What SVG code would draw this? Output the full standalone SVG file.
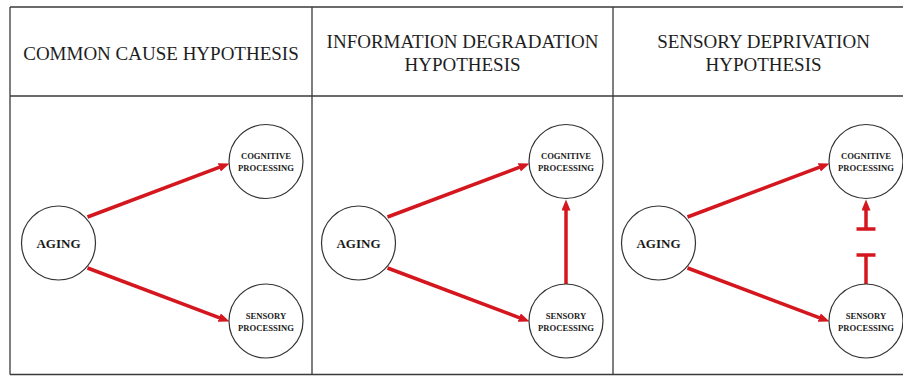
<svg xmlns="http://www.w3.org/2000/svg" width="903" height="376" viewBox="0 0 903 376">
<style>
.frame{stroke:#3a3a3a;stroke-width:1.3;fill:none}
.title{font-family:"Liberation Serif","Times New Roman",serif;font-size:19px;fill:#1e1e1e;text-anchor:middle}
.node circle{fill:#fff;stroke:#333;stroke-width:1.2}
.big{font-family:"Liberation Serif","Times New Roman",serif;font-size:13px;font-weight:bold;fill:#1a1a1a;text-anchor:middle}
.small{font-family:"Liberation Serif","Times New Roman",serif;font-size:8.6px;font-weight:bold;fill:#1a1a1a;text-anchor:middle}
.edge{stroke:#d4171e;stroke-width:3.5;fill:none}
</style>
<defs>
<marker id="ah" markerUnits="userSpaceOnUse" markerWidth="12" markerHeight="10" refX="0.5" refY="4.5" orient="auto">
<path d="M0,0 L11,4.5 L0,9 z" fill="#d4171e"/>
</marker>
</defs>
<rect width="903" height="376" fill="#fff"/>
<g id="frame" class="frame">
<line x1="10" y1="7" x2="903" y2="7"/>
<line x1="10" y1="96" x2="903" y2="96"/>
<line x1="10" y1="374.5" x2="903" y2="374.5"/>
<line x1="10" y1="7" x2="10" y2="374.5"/>
<line x1="312" y1="7" x2="312" y2="374.5"/>
<line x1="613" y1="7" x2="613" y2="374.5"/>
</g>
<g id="titles">
<text class="title" x="161" y="60">COMMON CAUSE HYPOTHESIS</text>
<text class="title" x="462.5" y="48">INFORMATION DEGRADATION</text>
<text class="title" x="462.5" y="71">HYPOTHESIS</text>
<text class="title" x="763.5" y="48">SENSORY DEPRIVATION</text>
<text class="title" x="763.5" y="71">HYPOTHESIS</text>
</g>
<g id="connectors">
<line class="edge" x1="87.5" y1="217" x2="219.7" y2="167.2" marker-end="url(#ah)"/>
<line class="edge" x1="87.5" y1="268" x2="219.7" y2="317.8" marker-end="url(#ah)"/>
<line class="edge" x1="387.5" y1="217" x2="519.7" y2="167.2" marker-end="url(#ah)"/>
<line class="edge" x1="387.5" y1="268" x2="519.7" y2="317.8" marker-end="url(#ah)"/>
<line class="edge" x1="566" y1="284.5" x2="566" y2="210" marker-end="url(#ah)"/>
<line class="edge" x1="687.5" y1="217" x2="819.7" y2="167.2" marker-end="url(#ah)"/>
<line class="edge" x1="687.5" y1="268" x2="819.7" y2="317.8" marker-end="url(#ah)"/>
<line class="edge" x1="866" y1="229" x2="866" y2="210" marker-end="url(#ah)"/>
<line class="edge" x1="856.5" y1="229" x2="875.5" y2="229"/>
<line class="edge" x1="866" y1="255" x2="866" y2="284.5"/>
<line class="edge" x1="856.5" y1="255" x2="875.5" y2="255"/>
</g>
<g id="cc-aging" class="node"><circle cx="58.5" cy="243" r="37"/><text class="big" x="58.5" y="247.7">AGING</text></g>
<g id="cc-cognitive" class="node"><circle cx="266" cy="161.5" r="37"/><text class="small" x="266" y="159">COGNITIVE</text><text class="small" x="266" y="170.5">PROCESSING</text></g>
<g id="cc-sensory" class="node"><circle cx="266" cy="321" r="37"/><text class="small" x="266" y="319">SENSORY</text><text class="small" x="266" y="330.5">PROCESSING</text></g>
<g id="id-aging" class="node"><circle cx="358.5" cy="243" r="37"/><text class="big" x="358.5" y="247.7">AGING</text></g>
<g id="id-cognitive" class="node"><circle cx="566" cy="161.5" r="37"/><text class="small" x="566" y="159">COGNITIVE</text><text class="small" x="566" y="170.5">PROCESSING</text></g>
<g id="id-sensory" class="node"><circle cx="566" cy="321" r="37"/><text class="small" x="566" y="319">SENSORY</text><text class="small" x="566" y="330.5">PROCESSING</text></g>
<g id="sd-aging" class="node"><circle cx="658.5" cy="243" r="37"/><text class="big" x="658.5" y="247.7">AGING</text></g>
<g id="sd-cognitive" class="node"><circle cx="866" cy="161.5" r="37"/><text class="small" x="866" y="159">COGNITIVE</text><text class="small" x="866" y="170.5">PROCESSING</text></g>
<g id="sd-sensory" class="node"><circle cx="866" cy="321" r="37"/><text class="small" x="866" y="319">SENSORY</text><text class="small" x="866" y="330.5">PROCESSING</text></g>
</svg>
